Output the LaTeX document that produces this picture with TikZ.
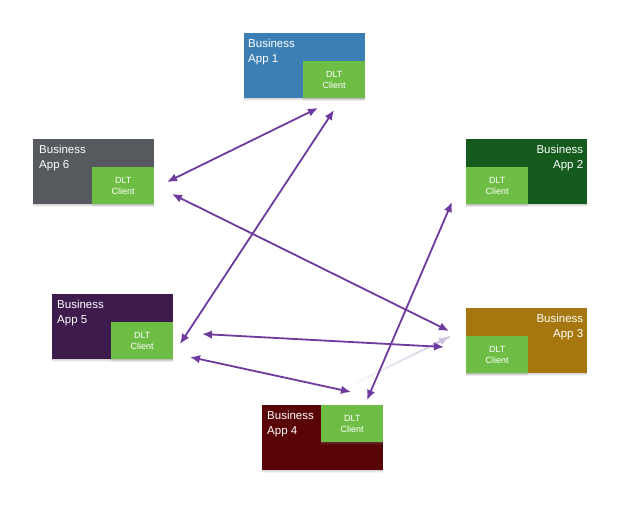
\documentclass[tikz,border=0pt]{standalone}
\usepackage{fontspec}
\setmainfont{Liberation Sans}
\usetikzlibrary{arrows.meta,shadows,calc}
\definecolor{appblue}{HTML}{3B7FB5}
\definecolor{appgray}{HTML}{56595E}
\definecolor{appgreen}{HTML}{145B1D}
\definecolor{apppurple}{HTML}{3D1B4C}
\definecolor{appbrown}{HTML}{A7770F}
\definecolor{appred}{HTML}{590507}
\definecolor{clientgreen}{HTML}{6EBE45}
\definecolor{linkpurple}{HTML}{6E3A9E}
\begin{document}
\begin{tikzpicture}[x=1pt,y=-1pt,
  softshadow/.style={
    drop shadow={shadow xshift=0pt,shadow yshift=-3pt,opacity=0.08},
    drop shadow={shadow xshift=0pt,shadow yshift=-2pt,opacity=0.12},
    drop shadow={shadow xshift=0pt,shadow yshift=-1pt,opacity=0.15}},
  box/.style={rectangle, draw=none, inner sep=0pt, anchor=north west,
    minimum width=121pt, minimum height=65pt, softshadow},
  client/.style={rectangle, fill=clientgreen, inner sep=0pt,
    minimum width=62pt, minimum height=37pt, align=center, text=white,
    font=\fontsize{9}{11}\selectfont, softshadow},
  btext/.style={inner sep=0pt, text=white, font=\fontsize{11.5}{14.5}\selectfont},
  link/.style={draw=linkpurple, line width=1.8pt,
    {Latex[length=10pt,width=8.5pt]}-{Latex[length=10pt,width=8.5pt]}}]
\useasboundingbox[fill=white] (0,0) rectangle (640,511);

% boxes
\node[box, fill=appblue]   (b1) at (244,33)  {};
\node[box, fill=appgray]   (b6) at (33,139)  {};
\node[box, fill=appgreen]  (b2) at (466,139) {};
\node[box, fill=apppurple] (b5) at (52,294)  {};
\node[box, fill=appbrown]  (b3) at (466,308) {};
\node[box, fill=appred]    (b4) at (262,405) {};

% clients
\node[client, anchor=south east] (c1) at (b1.south east) {DLT\\Client};
\node[client, anchor=south east] (c6) at (b6.south east) {DLT\\Client};
\node[client, anchor=south west] (c2) at (b2.south west) {DLT\\Client};
\node[client, anchor=south east] (c5) at (b5.south east) {DLT\\Client};
\node[client, anchor=south west] (c3) at (b3.south west) {DLT\\Client};
\node[client, anchor=north east] (c4) at (b4.north east) {DLT\\Client};

% labels
\node[btext, anchor=north west, align=left]  (t1) at ($(b1.north west)+(4,6)$) {Business\\App 1};
\node[btext, anchor=north west, align=left]  (t6) at ($(b6.north west)+(6,6)$) {Business\\App 6};
\node[btext, anchor=north east, align=right] (t2) at ($(b2.north east)+(-4,6)$) {Business\\App 2};
\node[btext, anchor=north west, align=left]  (t5) at ($(b5.north west)+(5,6)$) {Business\\App 5};
\node[btext, anchor=north east, align=right] (t3) at ($(b3.north east)+(-4,6)$) {Business\\App 3};
\node[btext, anchor=north west, align=left]  (t4) at ($(b4.north west)+(5,6)$) {Business\\App 4};

% connector end points
\coordinate (p1a) at (318,108); \coordinate (p1b) at (167,182);
\coordinate (p2a) at (334,110); \coordinate (p2b) at (180,344);
\coordinate (p3a) at (172,194); \coordinate (p3b) at (449,331);
\coordinate (p4a) at (202,334); \coordinate (p4b) at (444,347);
\coordinate (p5a) at (190,357); \coordinate (p5b) at (351,392);
\coordinate (p6a) at (452,202); \coordinate (p6b) at (367,400);
\coordinate (p7a) at (346,388); \coordinate (p7b) at (449,337);

% faint fading link
\foreach \i in {0,...,9}{
  \pgfmathtruncatemacro{\c}{2+\i*3}
  \draw[line width=1.8pt, draw=linkpurple!\c!white]
    ($(p7a)!\i/10!(p7b)$) -- ($(p7a)!\i/10+0.105!(p7b)$);
}
\draw[line width=1.8pt, draw=linkpurple!32!white, -{Latex[length=10pt,width=8.5pt]}]
  ($(p7a)!0.85!(p7b)$) -- (p7b);

% links
\draw[link] (p1a) -- (p1b);
\draw[link] (p2a) -- (p2b);
\draw[link] (p3a) -- (p3b);
\draw[link] (p4a) -- (p4b);
\draw[link] (p5a) -- (p5b);
\draw[link] (p6a) -- (p6b);
\end{tikzpicture}
\end{document}
